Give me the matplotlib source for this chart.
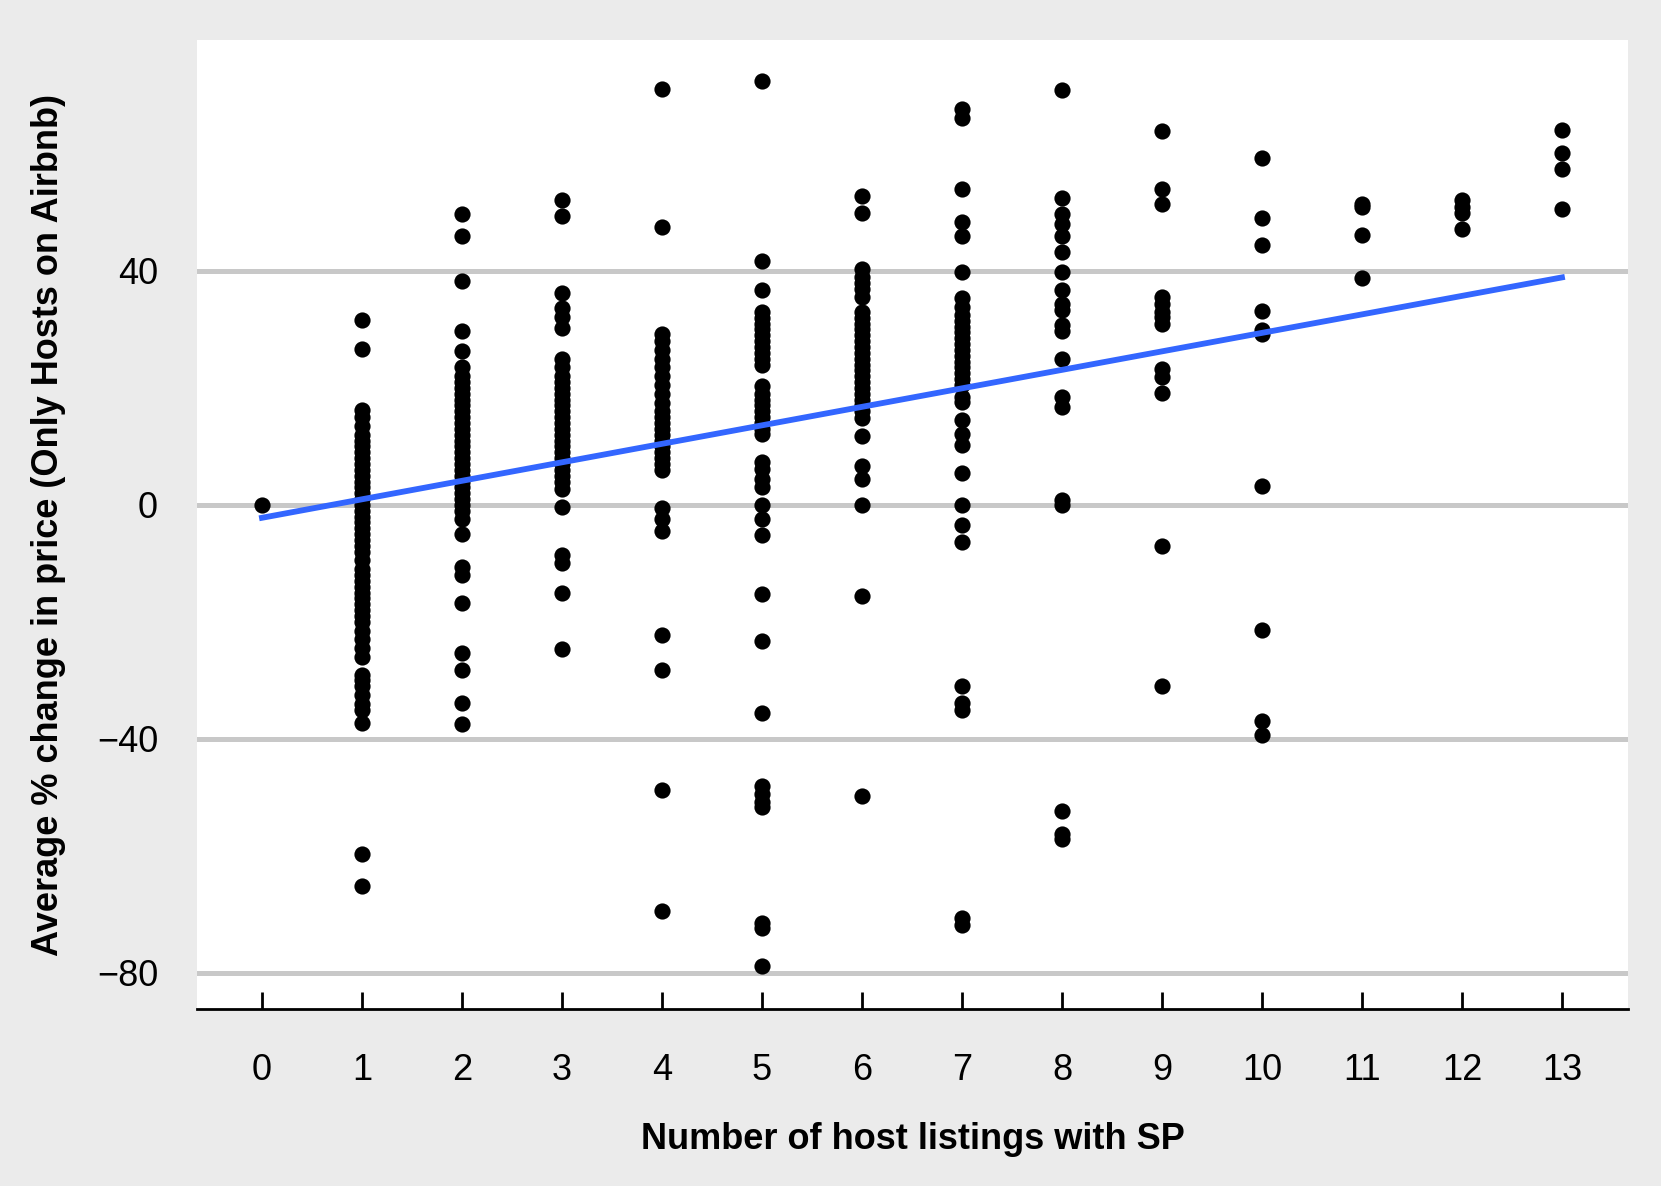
import numpy as np
import matplotlib.pyplot as plt

plt.rcParams['font.family'] = ['Liberation Sans', 'DejaVu Sans']

# average % change in price per host, grouped by number of listings with SP
y_at_0 = [0]
y_at_1 = [31.7, 26.6, 16.2, 15, 13.5, 12, 11, 10, 9, 8, 7, 6, 5, 4, 3, 2, 1, 0,
          -1, -2, -3, -4, -5, -6, -7, -8, -9.4, -11, -12, -13, -14, -15, -16,
          -17, -18, -19, -20, -21.5, -23, -24.5, -26, -29, -30, -31, -32.5,
          -34, -35, -37.3, -59.7, -65.2]
y_at_2 = [49.7, 45.9, 38.3, 29.8, 26.3, 23.6, 22, 21, 20, 19, 18, 17, 16, 15,
          14, 13, 12, 11, 10, 9, 8, 7, 6, 5, 4, 3, 2, 1, 0, -1, -2.4, -5,
          -10.7, -12, -16.7, -25.4, -28.3, -33.8, -37.4]
y_at_3 = [52.1, 49.4, 36.3, 33.6, 32.1, 30.3, 24.9, 23.5, 22, 21, 20, 19, 18,
          17, 16, 15, 14, 13, 12, 11, 10, 9, 8, 7, 6, 5, 4, 2.7, -0.4, -8.5,
          -10, -15.1, -24.7]
y_at_4 = [71.1, 47.5, 29.2, 28, 26.5, 25, 23.5, 22, 20.5, 19, 17.5, 16, 15, 14,
          13, 12, 11, 10, 9, 8, 7, 6, -0.5, -2.4, -4.4, -22.3, -28.3, -48.8,
          -69.5]
y_at_5 = [72.4, 41.7, 36.8, 33, 32, 31, 30, 29, 28, 27, 26, 25, 24, 20.3, 19,
          18, 17, 16, 15, 14, 13, 12.2, 7.3, 6.2, 4.5, 3.1, 0, -2.4, -5.1,
          -15.2, -23.2, -35.6, -48.1, -49.5, -50.8, -51.7, -71.5, -72.4, -78.8]
y_at_6 = [52.8, 49.9, 40.3, 39, 38, 37, 35.5, 33, 32, 31, 30, 29, 28, 27, 26,
          25, 24, 23, 22, 21, 20, 19, 18, 17, 16, 14.9, 11.8, 6.7, 4.5, 0,
          -15.6, -49.7]
y_at_7 = [67.7, 66.1, 54.1, 48.3, 45.9, 39.9, 35.4, 33.9, 32.5, 31.5, 30.5,
          29.5, 28.5, 27.5, 26.5, 25.5, 24.5, 23.5, 22.5, 21.5, 20.5, 18.5,
          17.6, 14.5, 12.2, 10.3, 5.4, 0, -3.4, -6.4, -30.9, -33.9, -35,
          -70.6, -71.9]
y_at_8 = [71, 52.5, 49.7, 48.1, 45.9, 43.2, 39.9, 36.8, 34.3, 33.4, 30.7, 29.8,
          24.9, 18.5, 16.7, 0.9, 0, -52.3, -56.3, -57.2]
y_at_9 = [63.9, 54.1, 51.4, 35.6, 34.3, 33, 32.1, 31, 23.2, 21.8, 19.2, -7.1, -31]
y_at_10 = [59.3, 49, 44.5, 33.2, 29.9, 29.2, 3.3, -21.4, -37, -39.4]
y_at_11 = [51.5, 51, 46.1, 38.8]
y_at_12 = [52.1, 51, 49.9, 47.2]
y_at_13 = [64.1, 60.1, 57.5, 50.6]

# linear fit line
fit_x = [0, 13]
fit_y = [-2.2, 38.9]

groups = [y_at_0, y_at_1, y_at_2, y_at_3, y_at_4, y_at_5, y_at_6, y_at_7,
          y_at_8, y_at_9, y_at_10, y_at_11, y_at_12, y_at_13]
xs = np.concatenate([np.full(len(g), i) for i, g in enumerate(groups)])
ys = np.concatenate([np.array(g, dtype=float) for g in groups])

fig = plt.figure(figsize=(8.305, 5.93), dpi=200, facecolor='#EBEBEB')
ax = fig.add_axes([0.1186, 0.1492, 0.9801 - 0.1186, 0.9663 - 0.1492])
ax.set_facecolor('white')

ax.scatter(xs, ys, s=34, color='black', linewidths=0, zorder=3)
ax.plot(fit_x, fit_y, color='#3366FF', linewidth=2.1, zorder=4)

ax.set_xlim(-0.65, 13.66)
ax.set_ylim(-86.2, 79.5)
ax.set_xticks(range(14))
ax.set_yticks([-80, -40, 0, 40])
ax.set_yticklabels(['\u221280', '\u221240', '0', '40'])

ax.grid(axis='y', color='#C8C8C8', linewidth=1.8, zorder=1)
ax.set_axisbelow(True)
for side in ['top', 'right', 'left']:
    ax.spines[side].set_visible(False)
ax.spines['bottom'].set_linewidth(1.0)
ax.spines['bottom'].set_color('black')

ax.tick_params(axis='x', direction='in', length=6, width=1.0, pad=16,
               labelsize=13, colors='black')
ax.tick_params(axis='y', length=0, pad=14, labelsize=13, colors='black')

ax.set_xlabel('Number of host listings with SP', fontsize=13, fontweight='bold',
              labelpad=12)
ax.set_ylabel('Average % change in price (Only Hosts on Airbnb)', fontsize=13,
              fontweight='bold', labelpad=11)

fig.savefig('out.png', dpi=200, facecolor=fig.get_facecolor())
